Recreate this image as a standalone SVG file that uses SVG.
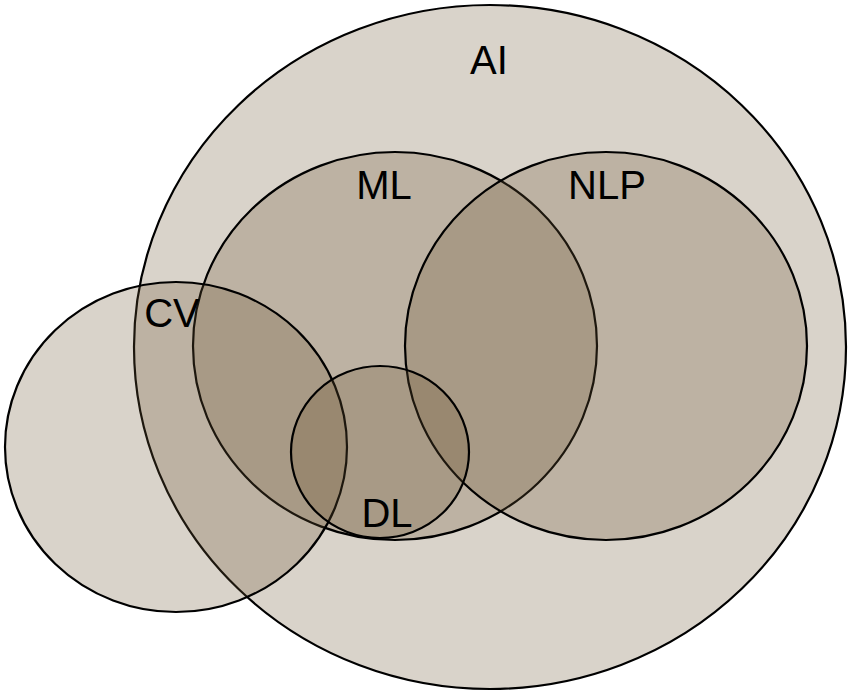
<svg xmlns="http://www.w3.org/2000/svg" width="850" height="695" viewBox="0 0 850 695">
<style>
.set{fill:rgb(110,88,54);fill-opacity:0.263;stroke:#000;stroke-width:2.2}
.lbl{font-family:"Liberation Sans",Arial,sans-serif;font-size:40px;fill:#000;text-anchor:middle}
</style>
<rect width="850" height="695" fill="#fff"/>
<g id="AI"><ellipse class="set" cx="490" cy="347" rx="356" ry="342"/><text class="lbl" x="489" y="74">AI</text></g>
<g id="ML"><ellipse class="set" cx="395" cy="346" rx="202" ry="194"/><text class="lbl" x="384" y="199">ML</text></g>
<g id="NLP"><ellipse class="set" cx="606" cy="346" rx="201" ry="194"/><text class="lbl" x="607" y="199">NLP</text></g>
<g id="CV"><ellipse class="set" cx="176" cy="447" rx="171" ry="165"/><text class="lbl" x="172" y="327">CV</text></g>
<g id="DL"><ellipse class="set" cx="380" cy="452" rx="89" ry="86"/><text class="lbl" x="387" y="527">DL</text></g>
<g id="connectors"></g>
</svg>
